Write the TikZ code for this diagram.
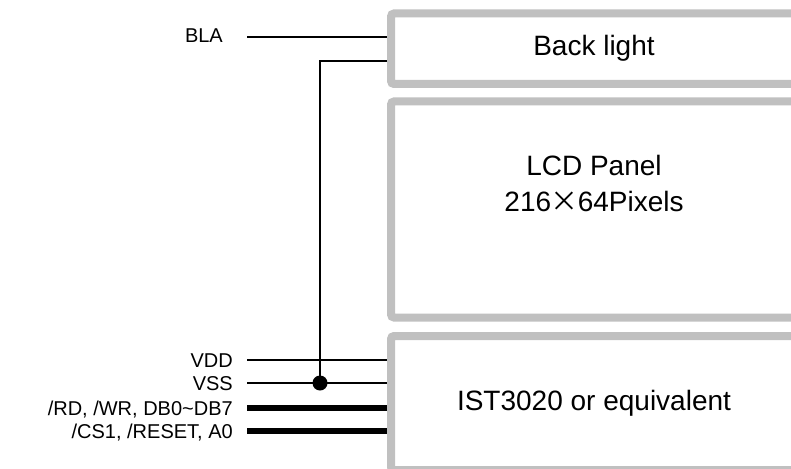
\documentclass[tikz,border=0pt]{standalone}
\usepackage{fontspec}
\setmainfont{Liberation Sans}
\newfontfamily\cjkfont{Noto Sans CJK SC}
\definecolor{panelgray}{RGB}{192,192,192}
\begin{document}
\begin{tikzpicture}[x=1pt,y=-1pt,
  panel/.style={draw=panelgray,line width=8pt,rounded corners=3pt,fill=white,inner sep=0pt},
  bigtext/.style={font=\fontsize{28}{36}\selectfont,align=center,inner sep=0pt},
  pinlabel/.style={font=\fontsize{20}{24}\selectfont,anchor=base east,inner sep=0pt},
  wire/.style={line width=2pt},
  bus/.style={line width=6pt}]
\useasboundingbox (0,0) rectangle (791,468);
% wires (drawn first, boxes cover their ends)
\node[pinlabel] (lbla) at (223,43) {BLA};
\node[pinlabel] (lvdd) at (233,367) {VDD};
\node[pinlabel] (lvss) at (233,390) {VSS};
\node[pinlabel] (lrd) at (233,415) {/RD, /WR, DB0\char`\~DB7};
\node[pinlabel] (lcs) at (233,438) {/CS1, /RESET, A0};
\coordinate (sbla) at (247,37);
\coordinate (svdd) at (247,360);
\coordinate (svss) at (247,383);
\coordinate (srd) at (247,408);
\coordinate (scs) at (247,431);
\coordinate (ktop) at (320,61);
\coordinate (jdot) at (320,383);
\coordinate (ebla) at (392,37);
\coordinate (ek) at (392,61);
\coordinate (evdd) at (392,360);
\coordinate (evss) at (392,383);
\coordinate (erd) at (392,408);
\coordinate (ecs) at (392,431);
\draw[wire] (sbla) -- (ebla);
\draw[wire] (jdot) -- (ktop) -- (ek);
\draw[wire] (svdd) -- (evdd);
\draw[wire] (svss) -- (evss);
\draw[bus] (srd) -- (erd);
\draw[bus] (scs) -- (ecs);
\fill (jdot) circle (7.5);
% panels
\node[panel,minimum width=406pt,minimum height=70.5pt] (bl) at (594,48.75) {};
\node[bigtext] (bltext) at (594,48) {Back light};
\node[panel,minimum width=406pt,minimum height=216pt] (lcd) at (594,209.5) {};
\node[bigtext] (lcdtext) at (594,183.5) {LCD Panel\\216\makebox[0.95em]{\cjkfont\fontsize{28}{36}\selectfont ×}64Pixels};
\node[panel,minimum width=406pt,minimum height=134pt] (ic) at (594,403) {};
\node[bigtext] (ictext) at (594,403) {IST3020 or equivalent};
\end{tikzpicture}
\end{document}
